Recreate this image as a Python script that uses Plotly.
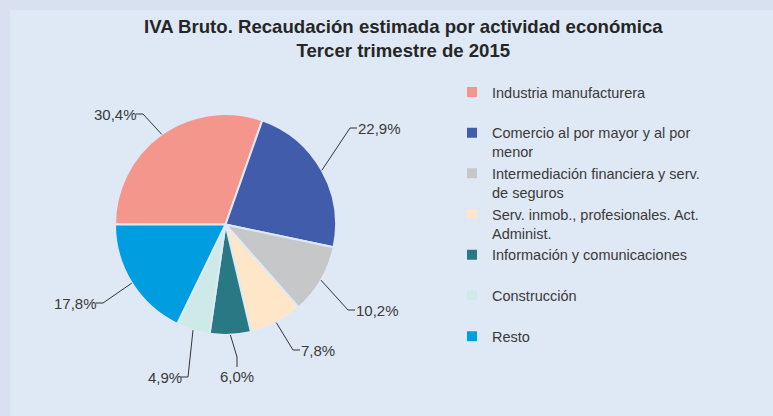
import math
import plotly.graph_objects as go

# ---------------- data ----------------
categories = [
    "Industria manufacturera",
    "Comercio al por mayor y al por menor",
    "Intermediación financiera y serv. de seguros",
    "Serv. inmob., profesionales. Act. Administ.",
    "Información y comunicaciones",
    "Construcción",
    "Resto",
]
legend_labels = [
    "Industria manufacturera<br> ",
    "Comercio al por mayor y al por<br>menor",
    "Intermediación financiera y serv.<br>de seguros",
    "Serv. inmob., profesionales. Act.<br>Administ.",
    "Información y comunicaciones<br> ",
    "Construcción<br> ",
    "Resto<br> ",
]
values = [30.4, 22.9, 10.2, 7.8, 6.0, 4.9, 17.8]
colors = ["#F5968C", "#405CAA", "#C6C7C9", "#FEE6C8", "#297984", "#CDEAE8", "#009EE0"]
title_lines = ["IVA Bruto. Recaudación estimada por actividad económica", "Tercer trimestre de 2015"]

# ---------------- layout / style ----------------
W, H = 773, 416
OUTER_BG = "#D9E1F1"
INNER_BG = "#DFE9F6"
TEXT_COL = "#3A3A3A"
FONT = "Liberation Sans, Arial, sans-serif"
CX, CY, R = 225.5, 224.5, 110.5   # pie centre / radius in px
START = 270                        # first slice starts at 9 o'clock

# label leader geometry (px): elbow point, tail direction
label_elbows = [(143, 114), (350, 128), (348, 310), (293, 350), (237, 357), (188, 377), (103, 303)]
label_dirs = ["left", "right", "right", "right", "down", "left", "left"]
TAIL = 7


def px(x, y):
    return x / W, 1 - y / H


fig = go.Figure()
fig.add_trace(go.Pie(
    labels=legend_labels,
    values=values,
    sort=False,
    direction="clockwise",
    rotation=-90,
    marker=dict(colors=colors, line=dict(color=INNER_BG, width=2)),
    textinfo="none",
    hovertext=categories,
    hoverinfo="text+percent",
    domain=dict(x=[(CX - 180) / W, (CX + 180) / W],
                y=[1 - (CY + R) / H, 1 - (CY - R) / H]),
))

shapes = [dict(type="rect", xref="paper", yref="paper",
               x0=10 / W, x1=1, y0=0, y1=1 - 10 / H,
               fillcolor=INNER_BG, line=dict(width=0), layer="below")]
annotations = []

total = sum(values)
cum = 0.0
for v, (ex, ey), d in zip(values, label_elbows, label_dirs):
    mid = math.radians(START + (cum + v / 2) / total * 360)
    cum += v
    sx, sy = CX + R * math.sin(mid), CY - R * math.cos(mid)
    if d == "left":
        tx, ty = ex - TAIL, ey
    elif d == "right":
        tx, ty = ex + TAIL, ey
    else:
        tx, ty = ex, ey + TAIL + 3
    p = [px(sx, sy), px(ex, ey), px(tx, ty)]
    shapes.append(dict(type="path", xref="paper", yref="paper",
                       path="M {},{} L {},{} L {},{}".format(p[0][0], p[0][1], p[1][0], p[1][1], p[2][0], p[2][1]),
                       line=dict(color="#333333", width=1)))
    label = "{:.1f}%".format(v).replace(".", ",")
    if d == "left":
        ax, ay, xa, ya = px(tx + 1, ty) + ("right", "middle")
    elif d == "right":
        ax, ay, xa, ya = px(tx + 1, ty) + ("left", "middle")
    else:
        ax, ay, xa, ya = px(tx, ty + 1) + ("center", "top")
    annotations.append(dict(x=ax, y=ay, xref="paper", yref="paper", xanchor=xa, yanchor=ya,
                            text=label, showarrow=False, borderpad=0, borderwidth=0,
                            font=dict(size=15, color=TEXT_COL, family=FONT)))

# title as annotation
tx_, ty_ = px(403.5, 16)
annotations.append(dict(x=tx_, y=ty_, xref="paper", yref="paper", xanchor="center", yanchor="top",
                        text="<b>" + "<br>".join(title_lines) + "</b>", showarrow=False,
                        borderpad=0, borderwidth=0,
                        font=dict(size=18.6, color="#262626", family=FONT)))

fig.update_layout(
    width=W, height=H,
    margin=dict(l=0, r=0, t=0, b=0),
    paper_bgcolor=OUTER_BG,
    plot_bgcolor=INNER_BG,
    font=dict(family=FONT, color=TEXT_COL),
    showlegend=True,
    legend=dict(x=452 / W, xanchor="left", y=1 - 76 / H, yanchor="top",
                valign="top", bgcolor="rgba(0,0,0,0)",
                font=dict(size=14.5, color=TEXT_COL, family=FONT)),
    shapes=shapes,
    annotations=annotations,
)

fig.write_html("out.html", config={"displayModeBar": False},
               post_script="document.body.style.margin='0px';document.body.style.overflow='hidden';")
